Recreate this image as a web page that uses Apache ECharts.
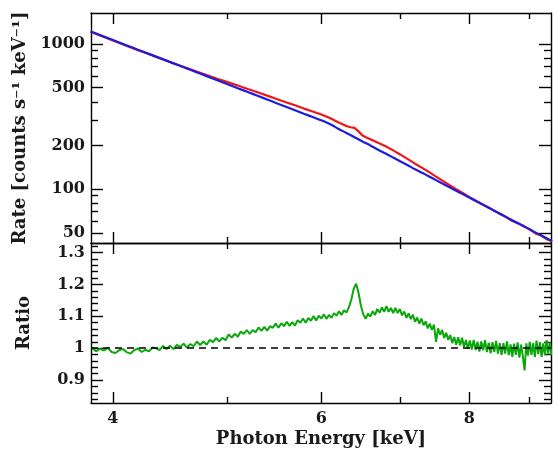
<!DOCTYPE html>
<html>
<head>
<meta charset="utf-8">
<script src="https://cdn.jsdelivr.net/npm/echarts@6/dist/echarts.min.js"></script>
<style>
  html, body { margin: 0; padding: 0; background: #fff; }
  #chart { width: 557px; height: 452px; }
</style>
</head>
<body>
<div id="chart"></div>
<script>
// ---------------- data ----------------
const energyRange = [3.833, 9.38];          // keV
const rateRange = [42.5, 1637];             // counts/s/keV
const ratioRange = [0.828, 1.33];

const energyMajor = [4, 6, 8];
const energyMinor = [5, 7, 9];
const rateMajor = [50, 100, 200, 500, 1000];
const rateMinor = [60, 70, 80, 90, 300, 400, 600, 700, 800, 900];
const ratioMajor = [0.9, 1, 1.1, 1.2, 1.3];
const ratioMinor = [0.84, 0.86, 0.88, 0.92, 0.94, 0.96, 0.98, 1.02, 1.04, 1.06, 1.08,
                    1.12, 1.14, 1.16, 1.18, 1.22, 1.24, 1.26, 1.28, 1.32];

// model (blue)
const modelEnergy = [3.83, 3.9, 4.0, 4.1, 4.2, 4.3, 4.4, 4.5, 4.6, 4.7, 4.8, 4.9, 5.0, 5.1, 5.2,
  5.3, 5.4, 5.5, 5.6, 5.7, 5.8, 5.9, 6.0, 6.1, 6.2, 6.3, 6.4, 6.5, 6.6, 6.7, 6.8, 6.9, 7.0,
  7.1, 7.2, 7.3, 7.4, 7.5, 7.6, 7.7, 7.8, 7.9, 8.0, 8.1, 8.2, 8.3, 8.4, 8.5, 8.6, 8.7, 8.8,
  8.9, 9.0, 9.1, 9.2, 9.3, 9.4];
const modelRate = [1222, 1154, 1066, 986, 914, 849, 790, 736, 687, 642, 601, 563, 528, 496, 467,
  440, 415, 391, 370, 350, 331, 314, 298, 281, 261, 244, 228, 213, 200, 187, 176, 165, 155,
  146, 137, 129.5, 122.2, 115.3, 109.0, 103.0, 97.5, 92.3, 87.4, 82.9, 78.6, 74.7, 70.9, 67.4, 64.1, 61.0, 58.1,
  55.3, 52.8, 50.3, 48.0, 45.8, 43.8];

// data (red)
const dataEnergy = [3.83, 3.9, 4.0, 4.1, 4.2, 4.3, 4.4, 4.5, 4.6, 4.7, 4.8, 4.9, 5.0, 5.1, 5.2,
  5.3, 5.4, 5.5, 5.6, 5.7, 5.8, 5.9, 6.0, 6.1, 6.2, 6.3, 6.35, 6.4, 6.45, 6.5, 6.55, 6.6, 6.7,
  6.8, 6.9, 7.0, 7.1, 7.2, 7.3, 7.4, 7.5, 7.6, 7.7, 7.8, 7.9, 8.0, 8.1, 8.2, 8.3, 8.4, 8.5,
  8.6, 8.7, 8.8, 8.9, 9.0, 9.1, 9.2, 9.3, 9.4];
const dataRate = [1217, 1148, 1059, 977, 907, 846, 789, 738, 692, 650, 611, 577, 546, 518, 490,
  465, 441, 418, 397, 378, 359, 343, 327, 309, 289, 272, 267, 264, 250, 234, 227, 221, 208.5,
  197.5, 185, 172.7, 161, 149.7, 140.1, 130.8, 122, 114, 106.4, 99.8, 93.9, 88.4, 83.6, 79.1, 75.0, 71.0, 67.4,
  64.0, 60.2, 57.9, 55.6, 52.5, 49.5, 47.9, 45.2, 43.8];

// ratio (green), channels of constant width
const ratioChannelStart = 3.84;
const ratioChannelWidth = 0.03;
const ratioValues = [
  1.001,0.990,0.998,0.993,1.001,0.988,0.985,0.994,0.997,0.987,
  0.983,0.994,0.999,0.988,0.995,0.990,1.002,1.000,0.994,1.007,
  0.997,1.008,0.997,1.010,1.004,1.014,1.002,1.013,1.006,1.021,
  1.010,1.021,1.011,1.026,1.019,1.032,1.021,1.033,1.025,1.043,
  1.033,1.045,1.036,1.052,1.045,1.057,1.045,1.057,1.050,1.065,
  1.054,1.067,1.055,1.069,1.064,1.077,1.064,1.078,1.069,1.083,
  1.070,1.082,1.071,1.088,1.080,1.093,1.080,1.095,1.086,1.101,
  1.087,1.102,1.093,1.106,1.092,1.104,1.095,1.110,1.102,1.116,
  1.104,1.119,1.112,1.128,1.152,1.186,1.202,1.174,1.134,1.106,
  1.092,1.108,1.099,1.116,1.104,1.123,1.111,1.128,1.114,1.132,
  1.114,1.126,1.110,1.126,1.110,1.123,1.103,1.115,1.095,1.109,
  1.091,1.105,1.083,1.096,1.077,1.093,1.072,1.084,1.062,1.077,
  1.057,1.074,1.020,1.062,1.042,1.057,1.032,1.048,1.026,1.041,
  1.016,1.035,1.011,1.034,1.009,1.033,1.003,1.026,0.998,1.024,
  0.996,1.026,0.994,1.020,0.989,1.021,0.993,1.025,0.988,1.017,
  0.984,1.019,0.988,1.023,0.983,1.016,0.979,1.016,0.983,1.021,
  0.978,1.012,0.973,1.014,0.979,1.018,0.970,1.011,0.974,0.930,
  1.015,0.977,1.020,0.979,1.016,0.973,1.024,0.981,1.019,0.973,
  1.015,0.978,1.025,0.983,1.018,0.978
];
const ratioReference = 1;

// ---------------- chart ----------------
const lx = Math.log;      // energy axis is logarithmic (natural log)
const ly = Math.log10;    // rate axis is logarithmic

const FONT = 'DejaVu Serif';
const INK = '#1a1a1a';
const AXW = 1.4;

function xAxisDef(grid, pos, ticks, len, showLine, extra) {
  return Object.assign({
    type: 'value', gridIndex: grid, position: pos,
    min: lx(energyRange[0]), max: lx(energyRange[1]),
    axisLine: { show: showLine, onZero: false, lineStyle: { color: '#000', width: AXW } },
    axisTick: { show: true, inside: true, length: len, customValues: ticks.map(lx),
                lineStyle: { color: '#000', width: AXW } },
    axisLabel: { show: false },
    splitLine: { show: false }
  }, extra || {});
}
function yAxisDef(grid, pos, min, max, ticks, len, showLine, extra) {
  return Object.assign({
    type: 'value', gridIndex: grid, position: pos, min: min, max: max,
    axisLine: { show: showLine, onZero: false, lineStyle: { color: '#000', width: AXW } },
    axisTick: { show: true, inside: true, length: len, customValues: ticks,
                lineStyle: { color: '#000', width: AXW } },
    axisLabel: { show: false },
    splitLine: { show: false }
  }, extra || {});
}

const labelStyle = { show: true, fontFamily: FONT, fontWeight: 'bold', fontSize: 16, color: INK };
const nameStyle = { fontFamily: FONT, fontWeight: 'bold', fontSize: 18, color: INK };

const rMin = ly(rateRange[0]), rMax = ly(rateRange[1]);

const option = {
  animation: false,
  backgroundColor: '#fff',
  grid: [
    { left: 91, right: 6, top: 13, height: 230 },
    { left: 91, right: 6, top: 243, height: 160 }
  ],
  xAxis: [
    xAxisDef(0, 'bottom', energyMajor, 11, true),
    xAxisDef(0, 'bottom', energyMinor, 6, false),
    xAxisDef(0, 'top', energyMajor, 11, true),
    xAxisDef(0, 'top', energyMinor, 6, false),
    xAxisDef(1, 'bottom', energyMajor, 11, true, {
      axisLabel: Object.assign({}, labelStyle, {
        customValues: energyMajor.map(lx), margin: 8,
        formatter: v => String(Math.round(Math.exp(v)))
      }),
      name: 'Photon Energy [keV]', nameLocation: 'middle', nameGap: 27, nameTextStyle: nameStyle
    }),
    xAxisDef(1, 'bottom', energyMinor, 6, false),
    xAxisDef(1, 'top', energyMajor, 11, true),
    xAxisDef(1, 'top', energyMinor, 6, false)
  ],
  yAxis: [
    yAxisDef(0, 'left', rMin, rMax, rateMajor.map(ly), 12, true, {
      axisLabel: Object.assign({}, labelStyle, {
        customValues: rateMajor.map(ly), margin: 6,
        formatter: v => String(Math.round(Math.pow(10, v)))
      }),
      name: 'Rate [counts s\u207B\u00B9 keV\u207B\u00B9]', nameLocation: 'middle', nameGap: 58,
      nameTextStyle: nameStyle
    }),
    yAxisDef(0, 'left', rMin, rMax, rateMinor.map(ly), 7, false),
    yAxisDef(0, 'right', rMin, rMax, rateMajor.map(ly), 12, true),
    yAxisDef(0, 'right', rMin, rMax, rateMinor.map(ly), 7, false),
    yAxisDef(1, 'left', ratioRange[0], ratioRange[1], ratioMajor, 12, true, {
      axisLabel: Object.assign({}, labelStyle, {
        customValues: ratioMajor, margin: 6,
        formatter: v => String(parseFloat(v.toFixed(2)))
      }),
      name: 'Ratio', nameLocation: 'middle', nameGap: 58, nameTextStyle: nameStyle
    }),
    yAxisDef(1, 'left', ratioRange[0], ratioRange[1], ratioMinor, 7, false),
    yAxisDef(1, 'right', ratioRange[0], ratioRange[1], ratioMajor, 12, true),
    yAxisDef(1, 'right', ratioRange[0], ratioRange[1], ratioMinor, 7, false)
  ],
  series: [
    {
      name: 'data', type: 'line', xAxisIndex: 0, yAxisIndex: 0,
      data: dataEnergy.map((e, i) => [lx(e), ly(dataRate[i])]),
      showSymbol: false, symbol: 'none', z: 2,
      lineStyle: { color: '#ee1616', width: 2.2 }
    },
    {
      name: 'model', type: 'line', xAxisIndex: 0, yAxisIndex: 0,
      data: modelEnergy.map((e, i) => [lx(e), ly(modelRate[i])]),
      showSymbol: false, symbol: 'none', z: 3, smooth: 0.2,
      lineStyle: { color: '#1c1ce0', width: 2.2 }
    },
    {
      name: 'ratio', type: 'line', xAxisIndex: 4, yAxisIndex: 4,
      data: ratioValues.map((r, i) => [lx(ratioChannelStart + i * ratioChannelWidth), r]),
      showSymbol: false, symbol: 'none', z: 2,
      lineStyle: { color: '#0aa80a', width: 2 },
      markLine: {
        silent: true, symbol: ['none', 'none'], label: { show: false },
        lineStyle: { color: '#000', type: [7, 5], width: 1.5 },
        data: [{ yAxis: ratioReference }]
      }
    }
  ]
};

const chart = echarts.init(document.getElementById('chart'), null, { renderer: 'canvas' });
chart.setOption(option);
</script>
</body>
</html>
